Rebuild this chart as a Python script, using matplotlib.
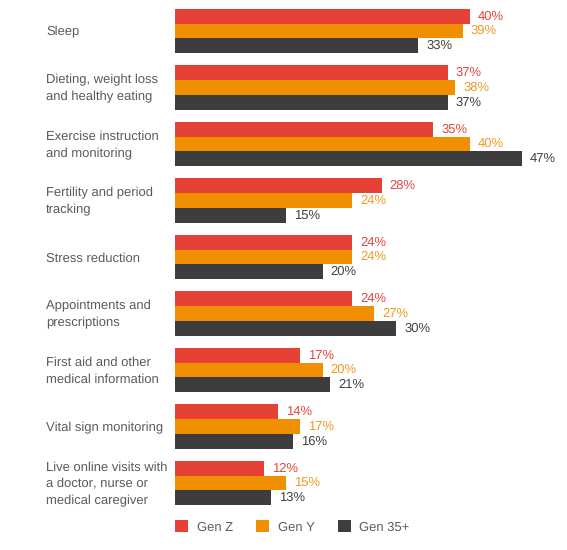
import matplotlib
matplotlib.use('Agg')
import matplotlib.pyplot as plt
import matplotlib.transforms as mtransforms
from matplotlib.patches import Patch
import numpy as np

plt.rcParams['font.family'] = ['Liberation Sans', 'DejaVu Sans']
plt.rcParams['font.size'] = 9
plt.rcParams['text.hinting'] = 'no_hinting'
plt.rcParams['text.hinting_factor'] = 1

categories = ['Sleep', 'Dieting, weight loss\nand healthy eating',
              'Exercise instruction\nand monitoring', 'Fertility and period\ntracking',
              'Stress reduction', 'Appointments and\nprescriptions',
              'First aid and other\nmedical information', 'Vital sign monitoring',
              'Live online visits with\na doctor, nurse or\nmedical caregiver']
gen_z = [40, 37, 35, 28, 24, 24, 17, 14, 12]
gen_y = [39, 38, 40, 24, 24, 27, 20, 17, 15]
gen_35 = [33, 37, 47, 15, 20, 30, 21, 16, 13]
series_names = ['Gen Z', 'Gen Y', 'Gen 35+']

bar_colors = ['#E54136', '#F08F00', '#3D3D3F']
text_colors = ['#E5453E', '#F09A20', '#404040']

W, H = 567, 550
fig = plt.figure(figsize=(W / 100, H / 100), dpi=100)
fig.patch.set_facecolor('white')
ax = fig.add_axes([175 / W, 0, (W - 175) / W, 1])

px_per_pct = 7.375
pitch = 56.5
ax.set_xlim(0, (W - 175) / px_per_pct)
ax.set_ylim((H - 31) / pitch, -31 / pitch)
ax.axis('off')

y = np.arange(len(categories))
h = 0.26
for k, vals in enumerate([gen_z, gen_y, gen_35]):
    ypos = y + (k - 1) * h
    ax.barh(ypos, vals, height=h, color=bar_colors[k], label=series_names[k])
    for yy, v in zip(ypos, vals):
        ax.text(v + 1.1, yy, f'{v}%', va='center', ha='left',
                color=text_colors[k], fontsize=9.5)

trans = mtransforms.blended_transform_factory(fig.transFigure, ax.transData)
for yy, cat in zip(y, categories):
    ax.text(46 / W, yy + 0.02, cat, transform=trans, ha='left', va='center',
            color='#5A5A5A', fontsize=9.2, linespacing=1.52)

handles = [Patch(facecolor=c, edgecolor='none') for c in bar_colors]
fig.legend(handles, series_names, loc='center left',
           bbox_to_anchor=(175 / W, 1 - 527 / H), ncol=3, frameon=False,
           handlelength=1.0, handleheight=1.0, handletextpad=0.65,
           columnspacing=1.75, borderpad=0, borderaxespad=0,
           labelcolor='#5E5E5E', fontsize=9.5)

plt.savefig('out.png', dpi=100, facecolor='white')
plt.close()
